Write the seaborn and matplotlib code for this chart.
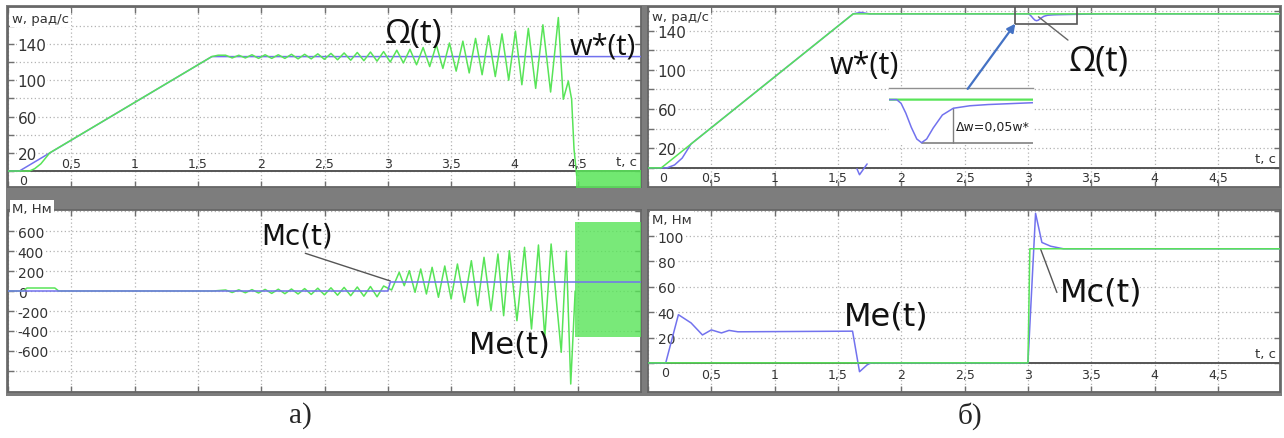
import matplotlib
matplotlib.use("Agg")
import matplotlib.pyplot as plt
import seaborn as sns
from matplotlib.patches import Rectangle

# ---------------- data ----------------
x_ticks = [0, 0.5, 1, 1.5, 2, 2.5, 3, 3.5, 4, 4.5]
x_labels = ["0", "0,5", "1", "1,5", "2", "2,5", "3", "3,5", "4", "4,5"]

# a) top: speed, w* (blue reference) and Omega (green)
a_ref_t = [0, 0.09, 1.61, 5.0]
a_ref_w = [0, 0, 126, 126]
a_om_t = [0, 0.17, 0.21, 0.26, 0.33, 1.61, 1.66,
          1.719, 1.771, 1.823, 1.875, 1.927, 1.979, 2.031, 2.083, 2.135, 2.187,
          2.239, 2.291, 2.343, 2.395, 2.447, 2.499, 2.551, 2.603, 2.655, 2.707,
          2.759, 2.811, 2.863, 2.915, 2.967, 3.019, 3.071, 3.123, 3.175, 3.227,
          3.279, 3.331, 3.383, 3.435, 3.487, 3.540, 3.593, 3.643, 3.693, 3.745,
          3.796, 3.849, 3.902, 3.955, 4.008, 4.059, 4.110, 4.168, 4.225, 4.286,
          4.347, 4.386, 4.426, 4.452, 4.471, 4.492]
a_om_w = [0, 0, 2.5, 8, 20, 126, 127.5,
          127.5, 124.5, 127.5, 124.5, 128, 124, 128, 124, 128, 124,
          128.5, 123.5, 128.5, 123.5, 129, 123, 129.5, 122.5, 130, 122,
          130.5, 121.5, 131, 121, 131.5, 120, 133, 119, 134, 117,
          136, 115, 139, 113, 141, 110, 143, 108, 146, 106,
          149, 104, 151, 100, 154, 95, 157, 91, 161, 87,
          169, 79, 99, 79, 24, -5]
a_band_t = [4.49, 5.0]
a_band_lo = [-25, -25]
a_band_hi = [1.5, 1.5]

# a) bottom: torque, Mc (blue) and Me (green)
a_mc_t = [0, 3.0, 3.02, 5.0]
a_mc_v = [0, 0, 90, 90]
a_me_t = [0, 0.12, 0.15, 0.37, 0.40, 1.62,
          1.719, 1.771, 1.823, 1.875, 1.927, 1.979, 2.031, 2.083, 2.135, 2.187,
          2.239, 2.291, 2.343, 2.395, 2.447, 2.499, 2.551, 2.603, 2.655, 2.707,
          2.759, 2.811, 2.863, 2.915, 2.967, 3.03,
          3.09, 3.13, 3.17, 3.215, 3.26, 3.305, 3.35, 3.40, 3.45, 3.50, 3.55,
          3.605, 3.66, 3.71, 3.76, 3.815, 3.87, 3.915, 3.96, 4.02, 4.08, 4.135,
          4.19, 4.24, 4.29, 4.37, 4.41, 4.445, 4.48]
a_me_v = [0, 0, 30, 30, 0, 0,
          10, -15, 12, -18, 14, -20, 16, -24, 18, -27,
          20, -30, 24, -34, 28, -38, 32, -42, 36, -47,
          40, -52, 45, -58, 50, 10,
          187, 53, 203, -13, 220, -30, 237, -63, 250, -80, 270,
          -113, 303, -147, 337, -197, 370, -247, 403, -297, 437, -380,
          460, -463, 470, -613, 400, -930, 0]
a_mband_t = [4.48, 5.0]
a_mband_lo = [-460, -460]
a_mband_hi = [690, 690]

# б) top: speed, w* (green reference) and Omega (blue)
b_ref_t = [0, 0.105, 1.62, 5.0]
b_ref_w = [0, 0, 157, 157]
b_om_t = [0, 0.15, 0.21, 0.27, 0.34, 1.62, 1.68, 1.75, 3.0, 3.012, 3.025, 3.04,
          3.055, 3.068, 3.082, 3.10, 3.125, 3.155, 3.2, 3.25, 3.373, 3.6, 5.0]
b_om_w = [0, 0, 3, 10, 24.4, 157, 158.5, 157, 157, 156.4, 154.8, 152.5,
          150.6, 150.0, 150.6, 152.4, 154.5, 155.6, 156.0, 156.2, 156.5, 157, 157]
b_hook_t = [1.65, 1.67, 1.73]
b_hook_w = [-1, -7, 4]
dw_t = 3.155  # where the 5 % band is measured

# б) bottom: torque, Me (blue) and Mc (green)
b_me_t = [0, 0.14, 0.24, 0.34, 0.43, 0.50, 0.58, 0.64, 0.71, 1.615, 1.67, 1.73,
          1.76, 3.0, 3.06, 3.11, 3.18, 3.28, 5.0]
b_me_v = [0, 0, 38, 31.5, 22, 26, 23.6, 25.6, 24.5, 25, -7, -1.6,
          0, 0, 118, 95, 92, 90, 90]
b_mc_t = [0, 3.0, 3.015, 5.0]
b_mc_v = [0, 0, 90, 90]

# ---------------- style ----------------
sns.set_theme(style="white")
plt.rcParams['font.family'] = ['DejaVu Sans']

GREEN = '#58E458'
BLUE = '#7272EE'
GRID = '#b3b3b3'
FRAME = '#666666'
TXT = '#333333'

W, H = 1284, 439
fig = plt.figure(figsize=(W / 100, H / 100), dpi=100)
fig.patch.set_facecolor('white')


def rect(px0, py0, px1, py1):
    return [px0 / W, 1 - py1 / H, (px1 - px0) / W, (py1 - py0) / H]


bg = fig.add_axes(rect(6, 6, 1282, 397), zorder=-10)
bg.set_facecolor('#7d7d7d')
bg.set_xticks([])
bg.set_yticks([])
for s in bg.spines.values():
    s.set_visible(False)

ax_a1 = fig.add_axes(rect(8, 8, 641, 188))
ax_b1 = fig.add_axes(rect(648, 8, 1280, 188))
ax_a2 = fig.add_axes(rect(8, 211, 641, 393))
ax_b2 = fig.add_axes(rect(648, 211, 1280, 393))


def line(ax, t, v, color, lw=1.1, z=3):
    sns.lineplot(x=t, y=v, ax=ax, color=color, linewidth=lw, sort=False,
                 estimator=None, legend=False, zorder=z)


def style(ax, xlim, ylim, yticks, ylabels, ysize):
    ax.set_xlim(*xlim)
    ax.set_ylim(*ylim)
    ax.set_facecolor('white')
    ax.set_axisbelow(True)
    ax.set_xticks(x_ticks)
    ax.set_xticklabels([])
    ax.set_yticks(yticks)
    ax.set_yticklabels(ylabels)
    ax.tick_params(axis='both', direction='in', length=4, width=1, color='#707070',
                   top=True, right=True, bottom=True, left=True)
    ax.tick_params(axis='x', labelbottom=False)
    ax.tick_params(axis='y', pad=-7, labelsize=ysize, labelcolor=TXT)
    for lab in ax.get_yticklabels():
        lab.set_horizontalalignment('left')
        lab.set_bbox(dict(facecolor='white', edgecolor='none', pad=0.3))
    ax.grid(True, color=GRID, linestyle=(0, (1, 2)), linewidth=0.9)
    for s in ax.spines.values():
        s.set_color(FRAME)
        s.set_linewidth(1.3)
    ax.set_xlabel('')
    ax.set_ylabel('')


def xlabels(ax, above, zero_dx, dy, size=9):
    for t, lab in zip(x_ticks, x_labels):
        if t == 0:
            ax.annotate(lab, xy=(0, 0), xytext=(zero_dx, -2), textcoords='offset points',
                        ha='center', va='top', fontsize=size, color=TXT)
        else:
            ax.annotate(lab, xy=(t, 0), xytext=(0, dy), textcoords='offset points',
                        ha='center', va='bottom' if above else 'top',
                        fontsize=size, color=TXT)
    ax.annotate('t, с', xy=(0.994, 0), xycoords=('axes fraction', 'data'),
                xytext=(0, 2), textcoords='offset points', ha='right', va='bottom',
                fontsize=9.5, color=TXT)


def ytitle(ax, text, y, size=9.5):
    ax.text(0.006, y, text, transform=ax.transAxes, ha='left', va='top',
            fontsize=size, color=TXT, zorder=6,
            bbox=dict(facecolor='white', edgecolor='none', pad=1.5))


# ---- a) top ----
ax = ax_a1
ax.axhline(0, color='#555555', linewidth=1.4, zorder=2)
line(ax, a_ref_t, a_ref_w, BLUE)
line(ax, a_om_t, a_om_w, GREEN)
ax.fill_between(a_band_t, a_band_lo, a_band_hi, color=GREEN, alpha=0.85, linewidth=0, zorder=3)
style(ax, (0, 5.0), (-17.6, 180.6), list(range(0, 161, 20)),
      ['', '20', '', '60', '', '100', '', '140', ''], 11)
xlabels(ax, True, 11, 1)
ytitle(ax, 'w, рад/с', 0.975)
ax.text(3.2, 151, 'Ω(t)', fontsize=24, family='Open Sans', ha='center', va='center', color='#111111')
ax.text(4.70, 137.7, 'w*(t)', fontsize=21, family='Open Sans', ha='center', va='center', color='#111111')

# ---- a) bottom ----
ax = ax_a2
line(ax, a_mc_t, a_mc_v, BLUE, z=4)
line(ax, a_me_t, a_me_v, GREEN)
ax.fill_between(a_mband_t, a_mband_lo, a_mband_hi, color=GREEN, alpha=0.8, linewidth=0, zorder=3)
style(ax, (0, 5.0), (-1010, 810), list(range(-800, 801, 200)),
      ['', '-600', '-400', '-200', '0', '200', '400', '600', ''], 10)
ytitle(ax, 'M, Нм', 1.045)
ax.annotate('Mc(t)', xy=(3.02, 100), xytext=(2.28, 550), fontsize=20, ha='center', va='center',
            color='#111111',
            arrowprops=dict(arrowstyle='-', color='#555555', lw=1.0, relpos=(0.48, 0.0),
                            shrinkA=0, shrinkB=0))
ax.text(3.96, -540, 'Me(t)', fontsize=22, ha='center', va='center', color='#111111')

# ---- б) top ----
ax = ax_b1
ax.axhline(0, color='#555555', linewidth=1.4, zorder=2)
line(ax, b_om_t, b_om_w, BLUE)
line(ax, b_hook_t, b_hook_w, BLUE)
line(ax, b_ref_t, b_ref_w, GREEN, z=4)
style(ax, (0, 4.99), (-19.5, 164), list(range(0, 161, 20)),
      ['', '20', '', '60', '', '100', '', '140', ''], 11)
xlabels(ax, False, 11, -2)
ytitle(ax, 'w, рад/с', 0.985)
ax.text(1.705, 105, 'w*(t)', fontsize=22, family='Open Sans', ha='center', va='center', color='#111111')
ax.annotate('Ω(t)', xy=(3.083, 154), xytext=(3.555, 109.6), fontsize=25, family='Open Sans',
            ha='center', va='center', color='#111111',
            arrowprops=dict(arrowstyle='-', color='#666666', lw=1.0, relpos=(0.1, 0.95),
                            shrinkA=0, shrinkB=0))
# zoom box and arrow
zoom_box = (2.90, 3.39, 147)
ax.add_patch(Rectangle((zoom_box[0], zoom_box[2]), zoom_box[1] - zoom_box[0], 30,
                       fill=False, edgecolor='#555555', linewidth=1.2, zorder=5))
ax.annotate('', xy=(zoom_box[0], zoom_box[2]), xytext=(2.524, 80.5),
            arrowprops=dict(arrowstyle='-|>', color='#4472C4', lw=1.6, mutation_scale=12,
                            shrinkA=0, shrinkB=0), zorder=6)
# inset
inset_xlim = (2.978, 3.373)
inset_ylim = (149.8, 158.9)
axin = ax.inset_axes([1.90, 24.4, 1.14, 57.1], transform=ax.transData, zorder=5)
line(axin, b_ref_t, b_ref_w, GREEN, lw=1.6)
line(axin, b_om_t, b_om_w, BLUE, lw=1.1)
axin.set_xlim(*inset_xlim)
axin.set_ylim(*inset_ylim)
axin.set_xticks([])
axin.set_yticks([])
axin.set_xlabel('')
axin.set_ylabel('')
axin.set_facecolor('white')
for k, s in axin.spines.items():
    s.set_visible(k == 'top')
    s.set_color('#909090')
    s.set_linewidth(1.0)
wmin = min(b_om_w[8:])
imin = b_om_w.index(wmin)
imeas = b_om_t.index(dw_t)
axin.plot([b_om_t[imin], inset_xlim[1]], [wmin, wmin], color='#808080', lw=1.2)
axin.plot([dw_t, dw_t], [wmin, b_om_w[imeas]], color='#808080', lw=1.0)
axin.text(dw_t + 0.008, 152.6, 'Δw=0,05w*', fontsize=9, ha='left', va='center', color='#222222')

# ---- б) bottom ----
ax = ax_b2
ax.axhline(0, color='#555555', linewidth=1.4, zorder=2)
line(ax, b_me_t, b_me_v, BLUE)
line(ax, b_mc_t, b_mc_v, GREEN, z=4)
style(ax, (0, 4.99), (-23, 120.6), list(range(0, 121, 20)),
      ['', '20', '40', '60', '80', '100', ''], 10)
xlabels(ax, False, 12.5, -4)
ytitle(ax, 'M, Нм', 0.985)
ax.text(1.878, 37.3, 'Me(t)', fontsize=23, ha='center', va='center', color='#111111')
ax.annotate('Mc(t)', xy=(3.10, 89.7), xytext=(3.58, 56), fontsize=23, ha='center', va='center',
            color='#111111',
            arrowprops=dict(arrowstyle='-', color='#555555', lw=1.0, relpos=(0.0, 0.2),
                            shrinkA=0, shrinkB=0))

# captions
fig.text(300 / W, 1 - 416 / H, 'а)', fontsize=21, family='Liberation Serif', ha='center', va='center')
fig.text(970 / W, 1 - 416 / H, 'б)', fontsize=21, family='Liberation Serif', ha='center', va='center')

fig.savefig('out.png', dpi=100, facecolor='white')
